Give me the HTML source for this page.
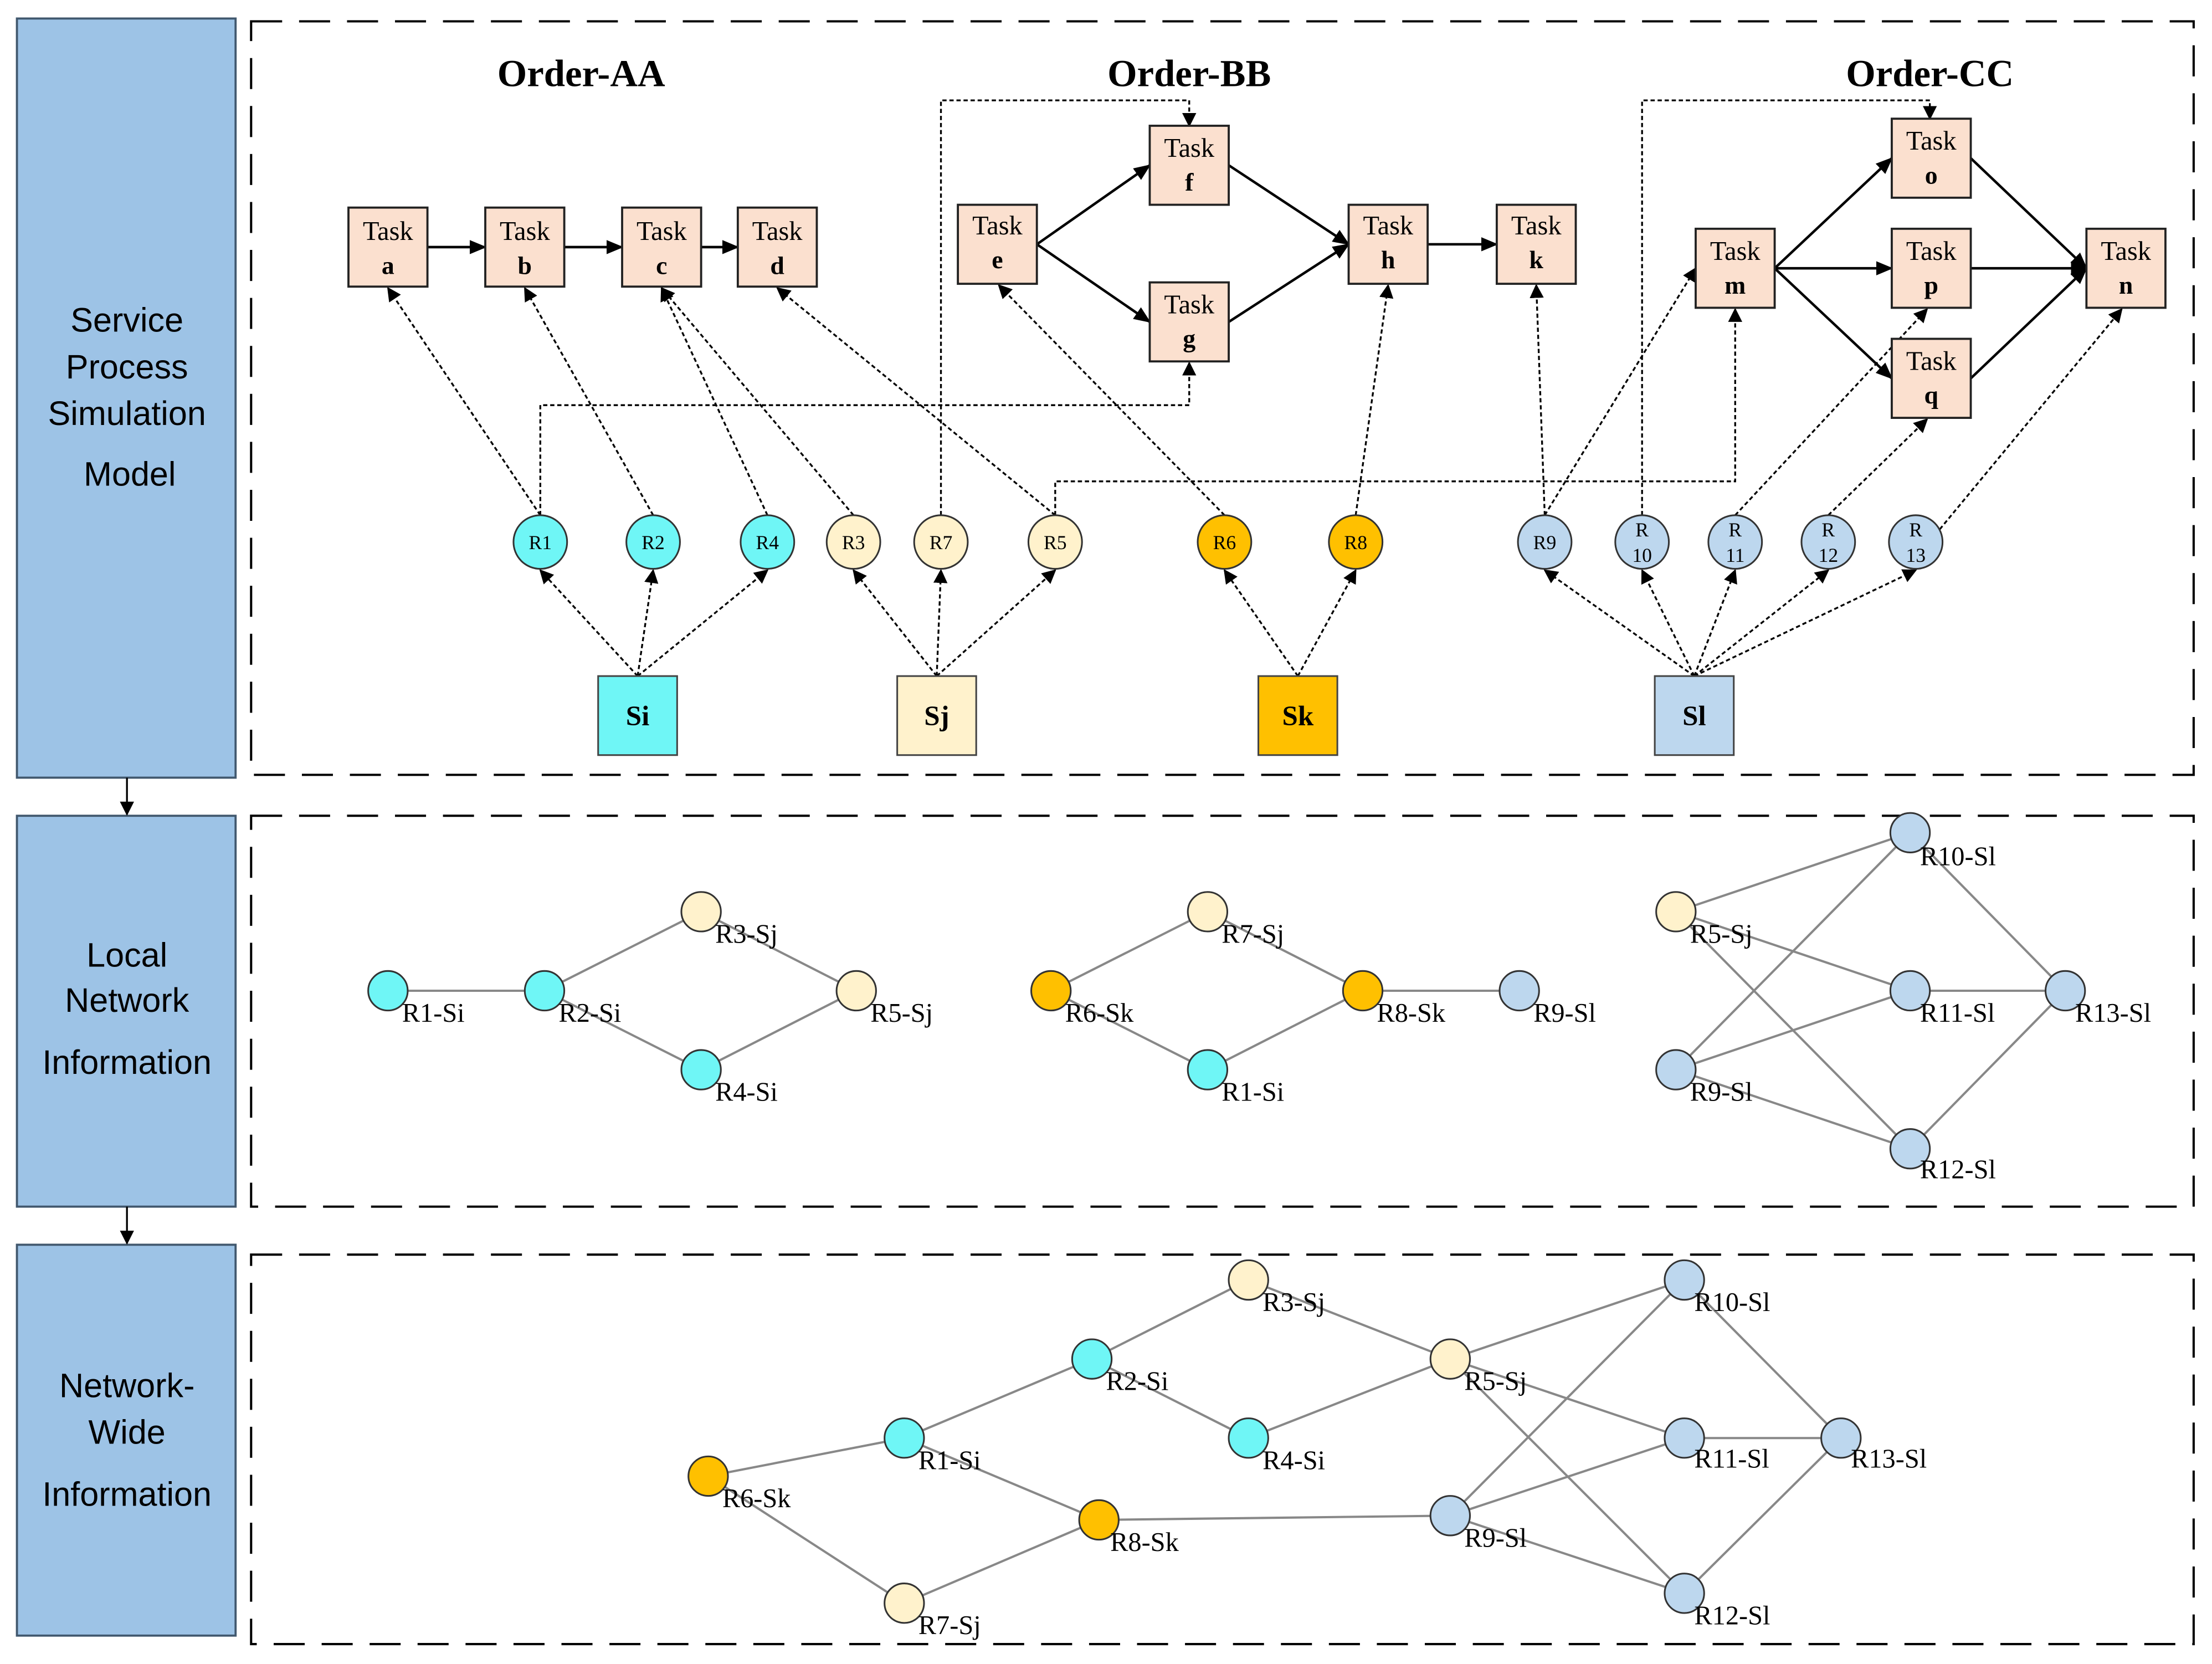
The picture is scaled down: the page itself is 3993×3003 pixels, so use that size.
<!DOCTYPE html>
<html><head><meta charset="utf-8"><style>html,body{margin:0;padding:0;background:#fff}svg{display:block}</style></head>
<body>
<svg xmlns="http://www.w3.org/2000/svg" width="3993" height="3003" viewBox="0 0 1568 1179">
<defs>
<marker id="a" markerWidth="10" markerHeight="10" refX="9" refY="5" orient="auto" markerUnits="userSpaceOnUse"><path d="M0,0 L10,5 L0,10 z" fill="#000"/></marker>
<marker id="b" markerWidth="12" markerHeight="10" refX="11" refY="5" orient="auto" markerUnits="userSpaceOnUse"><path d="M0,0 L12,5 L0,10 z" fill="#000"/></marker>
</defs>
<rect width="1568" height="1179" fill="#fff"/>
<g fill="#9dc3e6" stroke="#41586e" stroke-width="1.5">
<rect x="12" y="13" width="155" height="538"/>
<rect x="12" y="578" width="155" height="277"/>
<rect x="12" y="882" width="155" height="277"/>
</g>
<g stroke="#000" stroke-width="1.3"><line x1="90" y1="551" x2="90" y2="577" marker-end="url(#a)"/><line x1="90" y1="855" x2="90" y2="881" marker-end="url(#a)"/></g>
<g font-family="Liberation Sans, sans-serif" font-size="24" text-anchor="middle" fill="#000">
<text x="90" y="235">Service</text><text x="90" y="268">Process</text><text x="90" y="301">Simulation</text><text x="92" y="344">Model</text>
<text x="90" y="685">Local</text><text x="90" y="717">Network</text><text x="90" y="761">Information</text>
<text x="90" y="990">Network-</text><text x="90" y="1023">Wide</text><text x="90" y="1067">Information</text>
</g>
<g fill="none" stroke="#000" stroke-width="1.6" stroke-dasharray="22,12">
<rect x="178" y="15" width="1377" height="534"/>
<rect x="178" y="578" width="1377" height="277"/>
<rect x="178" y="889" width="1377" height="276"/>
</g>
<g font-family="Liberation Serif, serif" font-weight="bold" font-size="27" text-anchor="middle">
<text x="412" y="61">Order-AA</text><text x="843" y="61">Order-BB</text><text x="1368" y="61">Order-CC</text>
</g>
<g stroke="#000" stroke-width="1.8" marker-end="url(#b)">
<line x1="303" y1="175" x2="344" y2="175"/><line x1="400" y1="175" x2="441" y2="175"/><line x1="497" y1="175" x2="523" y2="175"/>
<line x1="735" y1="173" x2="815" y2="117"/><line x1="735" y1="173" x2="815" y2="228"/>
<line x1="871" y1="117" x2="956" y2="173"/><line x1="871" y1="228" x2="956" y2="173"/><line x1="1012" y1="173" x2="1061" y2="173"/>
<line x1="1258" y1="190" x2="1341" y2="112"/><line x1="1258" y1="190" x2="1341" y2="190"/><line x1="1258" y1="190" x2="1341" y2="268"/>
<line x1="1397" y1="112" x2="1479" y2="190"/><line x1="1397" y1="190" x2="1479" y2="190"/><line x1="1397" y1="268" x2="1479" y2="190"/>
</g>
<g fill="none" stroke="#000" stroke-width="1.3" stroke-dasharray="3,2" marker-end="url(#a)">
<line x1="383" y1="365" x2="275" y2="204"/><line x1="463" y1="365" x2="372" y2="204"/><line x1="544" y1="365" x2="469" y2="204"/>
<line x1="605" y1="365" x2="469" y2="204"/><line x1="748" y1="365" x2="551" y2="204"/>
<line x1="868" y1="365" x2="708" y2="202"/><line x1="961" y1="365" x2="984" y2="202"/>
<line x1="1095" y1="365" x2="1089" y2="202"/><line x1="1095" y1="365" x2="1202" y2="190"/>
<line x1="1230" y1="365" x2="1366" y2="219"/><line x1="1296" y1="365" x2="1366" y2="297"/><line x1="1375" y1="375" x2="1504" y2="219"/>
<polyline points="667,365 667,71 843,71 843,89"/>
<polyline points="1164,365 1164,71 1368,71 1368,84"/>
<polyline points="383,365 383,287 843,287 843,257"/>
<polyline points="748,365 748,341 1230,341 1230,219"/>
<line x1="452" y1="479" x2="383" y2="404"/><line x1="452" y1="479" x2="463" y2="404"/><line x1="452" y1="479" x2="544" y2="404"/>
<line x1="664" y1="479" x2="605" y2="404"/><line x1="664" y1="479" x2="667" y2="404"/><line x1="664" y1="479" x2="748" y2="404"/>
<line x1="920" y1="479" x2="868" y2="404"/><line x1="920" y1="479" x2="961" y2="404"/>
<line x1="1201" y1="479" x2="1095" y2="404"/><line x1="1201" y1="479" x2="1164" y2="404"/><line x1="1201" y1="479" x2="1230" y2="404"/><line x1="1201" y1="479" x2="1296" y2="404"/><line x1="1201" y1="479" x2="1358" y2="404"/>
</g>
<g fill="#fbe0cf" stroke="#222" stroke-width="1.5">
<rect x="247" y="147" width="56" height="56"/><rect x="344" y="147" width="56" height="56"/><rect x="441" y="147" width="56" height="56"/><rect x="523" y="147" width="56" height="56"/>
<rect x="679" y="145" width="56" height="56"/><rect x="815" y="89" width="56" height="56"/><rect x="815" y="200" width="56" height="56"/><rect x="956" y="145" width="56" height="56"/><rect x="1061" y="145" width="56" height="56"/>
<rect x="1202" y="162" width="56" height="56"/><rect x="1341" y="84" width="56" height="56"/><rect x="1341" y="162" width="56" height="56"/><rect x="1341" y="240" width="56" height="56"/><rect x="1479" y="162" width="56" height="56"/>
</g>
<g font-family="Liberation Serif, serif" font-size="19" text-anchor="middle">
<text x="275" y="170">Task</text><text x="372" y="170">Task</text><text x="469" y="170">Task</text><text x="551" y="170">Task</text>
<text x="707" y="166">Task</text><text x="843" y="111">Task</text><text x="843" y="222">Task</text><text x="984" y="166">Task</text><text x="1089" y="166">Task</text>
<text x="1230" y="184">Task</text><text x="1369" y="106">Task</text><text x="1369" y="184">Task</text><text x="1369" y="262">Task</text><text x="1507" y="184">Task</text>
</g>
<g font-family="Liberation Serif, serif" font-size="18" font-weight="bold" text-anchor="middle">
<text x="275" y="194">a</text><text x="372" y="194">b</text><text x="469" y="194">c</text><text x="551" y="194">d</text>
<text x="707" y="190">e</text><text x="843" y="135">f</text><text x="843" y="246">g</text><text x="984" y="190">h</text><text x="1089" y="190">k</text>
<text x="1230" y="208">m</text><text x="1369" y="130">o</text><text x="1369" y="208">p</text><text x="1369" y="286">q</text><text x="1507" y="208">n</text>
</g>
<g stroke="#333" stroke-width="1.2">
<g fill="#6ff6f6"><circle cx="383" cy="384" r="19"/><circle cx="463" cy="384" r="19"/><circle cx="544" cy="384" r="19"/></g>
<g fill="#fff2cc"><circle cx="605" cy="384" r="19"/><circle cx="667" cy="384" r="19"/><circle cx="748" cy="384" r="19"/></g>
<g fill="#ffc000"><circle cx="868" cy="384" r="19"/><circle cx="961" cy="384" r="19"/></g>
<g fill="#bdd7ee"><circle cx="1095" cy="384" r="19"/><circle cx="1164" cy="384" r="19"/><circle cx="1230" cy="384" r="19"/><circle cx="1296" cy="384" r="19"/><circle cx="1358" cy="384" r="19"/></g>
</g>
<g font-family="Liberation Serif, serif" font-size="14" text-anchor="middle">
<text x="383" y="389">R1</text><text x="463" y="389">R2</text><text x="544" y="389">R4</text><text x="605" y="389">R3</text><text x="667" y="389">R7</text><text x="748" y="389">R5</text>
<text x="868" y="389">R6</text><text x="961" y="389">R8</text><text x="1095" y="389">R9</text>
<text x="1164" y="380">R</text><text x="1164" y="398">10</text><text x="1230" y="380">R</text><text x="1230" y="398">11</text>
<text x="1296" y="380">R</text><text x="1296" y="398">12</text><text x="1358" y="380">R</text><text x="1358" y="398">13</text>
</g>
<g stroke="#444" stroke-width="1.2">
<rect x="424" y="479" width="56" height="56" fill="#6ff6f6"/><rect x="636" y="479" width="56" height="56" fill="#fff2cc"/>
<rect x="892" y="479" width="56" height="56" fill="#ffc000"/><rect x="1173" y="479" width="56" height="56" fill="#bdd7ee"/>
</g>
<g font-family="Liberation Serif, serif" font-size="20" font-weight="bold" text-anchor="middle">
<text x="452" y="514">Si</text><text x="664" y="514">Sj</text><text x="920" y="514">Sk</text><text x="1201" y="514">Sl</text>
</g>
<g stroke="#888" stroke-width="1.6">
<line x1="275" y1="702" x2="386" y2="702"/><line x1="386" y1="702" x2="497" y2="646"/><line x1="386" y1="702" x2="497" y2="758"/><line x1="497" y1="646" x2="607" y2="702"/><line x1="497" y1="758" x2="607" y2="702"/>
<line x1="745" y1="702" x2="856" y2="646"/><line x1="745" y1="702" x2="856" y2="758"/><line x1="856" y1="646" x2="966" y2="702"/><line x1="856" y1="758" x2="966" y2="702"/><line x1="966" y1="702" x2="1077" y2="702"/>
<line x1="1188" y1="646" x2="1354" y2="590"/><line x1="1188" y1="646" x2="1354" y2="702"/><line x1="1188" y1="646" x2="1354" y2="814"/>
<line x1="1188" y1="758" x2="1354" y2="590"/><line x1="1188" y1="758" x2="1354" y2="702"/><line x1="1188" y1="758" x2="1354" y2="814"/>
<line x1="1354" y1="590" x2="1464" y2="702"/><line x1="1354" y1="702" x2="1464" y2="702"/><line x1="1354" y1="814" x2="1464" y2="702"/>
<line x1="502" y1="1046" x2="641" y2="1019"/><line x1="502" y1="1046" x2="641" y2="1136"/><line x1="641" y1="1019" x2="774" y2="963"/><line x1="641" y1="1019" x2="779" y2="1077"/><line x1="641" y1="1136" x2="779" y2="1077"/>
<line x1="774" y1="963" x2="885" y2="907"/><line x1="774" y1="963" x2="885" y2="1019"/><line x1="885" y1="907" x2="1028" y2="963"/><line x1="885" y1="1019" x2="1028" y2="963"/><line x1="779" y1="1077" x2="1028" y2="1074"/>
<line x1="1028" y1="963" x2="1194" y2="907"/><line x1="1028" y1="963" x2="1194" y2="1019"/><line x1="1028" y1="963" x2="1194" y2="1129"/>
<line x1="1028" y1="1074" x2="1194" y2="907"/><line x1="1028" y1="1074" x2="1194" y2="1019"/><line x1="1028" y1="1074" x2="1194" y2="1129"/>
<line x1="1194" y1="907" x2="1305" y2="1019"/><line x1="1194" y1="1019" x2="1305" y2="1019"/><line x1="1194" y1="1129" x2="1305" y2="1019"/>
</g>
<g stroke="#333" stroke-width="1.2">
<g fill="#6ff6f6"><circle cx="275" cy="702" r="14"/><circle cx="386" cy="702" r="14"/><circle cx="497" cy="758" r="14"/><circle cx="856" cy="758" r="14"/>
<circle cx="641" cy="1019" r="14"/><circle cx="774" cy="963" r="14"/><circle cx="885" cy="1019" r="14"/></g>
<g fill="#fff2cc"><circle cx="497" cy="646" r="14"/><circle cx="607" cy="702" r="14"/><circle cx="856" cy="646" r="14"/><circle cx="1188" cy="646" r="14"/>
<circle cx="885" cy="907" r="14"/><circle cx="1028" cy="963" r="14"/><circle cx="641" cy="1136" r="14"/></g>
<g fill="#ffc000"><circle cx="745" cy="702" r="14"/><circle cx="966" cy="702" r="14"/><circle cx="502" cy="1046" r="14"/><circle cx="779" cy="1077" r="14"/></g>
<g fill="#bdd7ee"><circle cx="1077" cy="702" r="14"/><circle cx="1188" cy="758" r="14"/><circle cx="1354" cy="590" r="14"/><circle cx="1354" cy="702" r="14"/><circle cx="1354" cy="814" r="14"/><circle cx="1464" cy="702" r="14"/>
<circle cx="1028" cy="1074" r="14"/><circle cx="1194" cy="907" r="14"/><circle cx="1194" cy="1019" r="14"/><circle cx="1194" cy="1129" r="14"/><circle cx="1305" cy="1019" r="14"/></g>
</g>
<g font-family="Liberation Serif, serif" font-size="19">
<text x="285" y="724">R1-Si</text><text x="396" y="724">R2-Si</text><text x="507" y="668">R3-Sj</text><text x="507" y="780">R4-Si</text><text x="617" y="724">R5-Sj</text>
<text x="755" y="724">R6-Sk</text><text x="866" y="668">R7-Sj</text><text x="866" y="780">R1-Si</text><text x="976" y="724">R8-Sk</text><text x="1087" y="724">R9-Sl</text>
<text x="1198" y="668">R5-Sj</text><text x="1198" y="780">R9-Sl</text><text x="1361" y="613">R10-Sl</text><text x="1361" y="724">R11-Sl</text><text x="1361" y="835">R12-Sl</text><text x="1471" y="724">R13-Sl</text>
<text x="512" y="1068">R6-Sk</text><text x="651" y="1041">R1-Si</text><text x="784" y="985">R2-Si</text><text x="895" y="929">R3-Sj</text><text x="895" y="1041">R4-Si</text><text x="1038" y="985">R5-Sj</text>
<text x="651" y="1158">R7-Sj</text><text x="787" y="1099">R8-Sk</text><text x="1038" y="1096">R9-Sl</text><text x="1201" y="929">R10-Sl</text><text x="1201" y="1040">R11-Sl</text><text x="1201" y="1151">R12-Sl</text><text x="1312" y="1040">R13-Sl</text>
</g>
</svg>
</body></html>
